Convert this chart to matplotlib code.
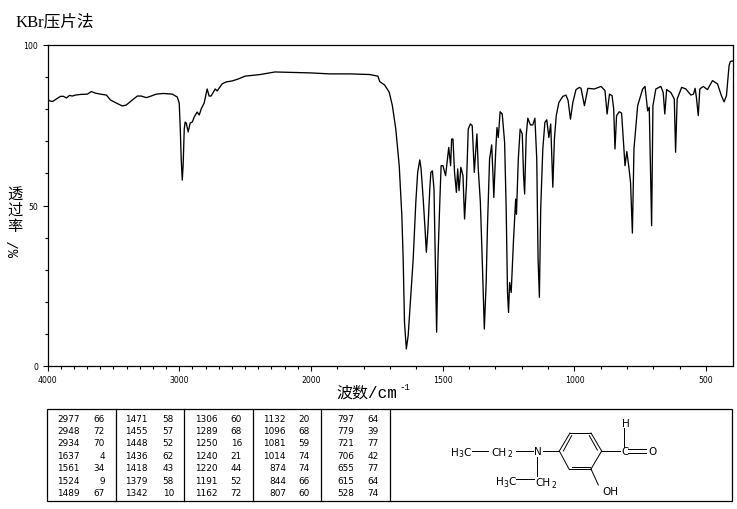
import numpy as np
import matplotlib
matplotlib.use('Agg')
import matplotlib.pyplot as plt
from matplotlib.patches import Rectangle

# spectrum
wavenumber = [4000, 3985, 3962, 3932, 3902, 3879, 3856, 3833, 3811, 3788, 3750, 3697, 3667, 3636, 3598, 3553,
              3523, 3477, 3432, 3402, 3364, 3318, 3288, 3250, 3220, 3174, 3121, 3053, 3015, 3000, 2992, 2985,
              2977, 2970, 2962, 2955, 2947, 2932, 2917, 2901, 2886, 2864, 2848, 2833, 2811, 2788, 2773, 2758,
              2727, 2712, 2674, 2644, 2598, 2553, 2500, 2386, 2273, 2083, 2000, 1928, 1852, 1777, 1746,
              1739, 1720, 1703, 1691, 1678, 1665, 1655, 1650, 1645, 1638, 1631, 1622, 1612, 1602, 1595, 1587,
              1582, 1574, 1567, 1562, 1556, 1549, 1545, 1539, 1533, 1526, 1523, 1518, 1511, 1506, 1499, 1489,
              1482, 1477, 1470, 1466, 1461, 1455, 1448, 1443, 1438, 1431, 1423, 1417, 1410, 1403, 1395, 1388,
              1380, 1375, 1370, 1365, 1357, 1350, 1342, 1335, 1330, 1322, 1314, 1309, 1306, 1299, 1294, 1289,
              1282, 1274, 1265, 1259, 1254, 1250, 1246, 1240, 1231, 1223, 1220, 1213, 1206, 1198, 1193, 1189,
              1183, 1177, 1167, 1158, 1150, 1143, 1138, 1133, 1128, 1120, 1112, 1105, 1097, 1090, 1082, 1076,
              1069, 1059, 1044, 1032, 1024, 1015, 1006, 994, 981,
              975, 962, 949, 924, 899, 884, 876, 867, 857, 851, 846, 840, 830, 821, 808, 801, 794, 787, 780,
              774, 760, 741, 732, 722, 716, 710, 707, 702, 691, 672, 663, 657, 650, 634, 621, 616, 610, 593,
              577, 558, 548, 542, 537, 530, 524, 511, 495, 476, 457, 442, 432, 423, 413, 408, 400]
transmittance = [83.2, 82.6, 82.4, 83.2, 84.0, 84.0, 83.5, 84.3, 84.1, 84.4, 84.6, 84.7, 85.5, 85.0, 84.7, 84.4,
                 82.9, 81.9, 81.0, 81.3, 82.6, 84.1, 84.1, 83.6, 84.0, 84.7, 84.9, 84.7, 83.8, 81.9, 73.8, 64.5,
                 57.9, 62.9, 73.8, 76.0, 75.7, 72.9, 75.7, 76.0, 77.6, 79.1, 78.2, 80.1, 81.9, 86.3, 84.1, 84.1,
                 86.3, 85.7, 87.9, 88.5, 88.8, 89.4, 90.3, 90.8, 91.6, 91.4, 91.3, 91.0, 91.0, 90.8, 90.3,
                 88.6, 87.5, 85.3, 81.1, 73.8, 62.4, 46.8, 33.3, 13.6, 5.3, 9.5, 20.9, 33.3, 51.0, 60.3, 64.2,
                 61.4, 52.0, 42.7, 35.4, 42.7, 55.1, 60.3, 60.8, 55.1, 25.0, 10.5, 33.3, 51.0, 62.4, 62.4, 59.3,
                 64.5, 68.1, 62.4, 70.7, 70.7, 60.3, 54.1, 61.4, 54.6, 61.9, 59.3, 45.8, 56.2, 73.8, 75.4, 74.9,
                 60.3, 66.6, 72.3, 61.4, 51.0, 33.3, 11.5, 26.0, 43.7, 64.5, 68.9, 59.3, 52.5, 66.6, 74.3, 71.2,
                 79.2, 78.5, 69.7, 48.9, 22.9, 16.7, 26.0, 22.9, 39.6, 52.0, 47.3, 64.5, 73.8, 72.3, 59.3, 53.6,
                 71.8, 77.2, 75.1, 75.1, 77.2, 64.5, 33.3, 21.4, 48.9, 67.6, 75.9, 76.7, 71.2, 75.4, 55.7, 70.7,
                 78.0, 82.1, 84.0, 84.4, 82.7, 76.9, 82.1, 86.1, 86.8,
                 86.5, 81.1, 86.5, 86.3, 87.1, 85.8, 78.5, 84.7, 84.2, 80.1, 67.6, 78.0, 79.2, 78.8, 62.4, 66.8, 62.4, 57.2, 41.4,
                 67.6, 81.1, 86.3, 87.1, 79.5, 80.6, 55.7, 43.7, 81.1, 86.3, 87.1, 85.2, 78.5, 86.1, 85.2, 83.2, 66.6, 83.2, 86.8,
                 86.3, 84.4, 84.7, 86.5, 83.7, 78.0, 86.3, 87.1, 86.1, 88.9, 87.9, 84.2, 82.3, 84.2, 93.6, 94.9, 95.0]

# peak table, five blocks of seven rows
peak_wn = [['2977', '2948', '2934', '1637', '1561', '1524', '1489'],
           ['1471', '1455', '1448', '1436', '1418', '1379', '1342'],
           ['1306', '1289', '1250', '1240', '1220', '1191', '1162'],
           ['1132', '1096', '1081', '1014', '874', '844', '807'],
           ['797', '779', '721', '706', '655', '615', '528']]
peak_t = [['66', '72', '70', '4', '34', '9', '67'],
          ['58', '57', '52', '62', '43', '58', '10'],
          ['60', '68', '16', '21', '44', '52', '72'],
          ['20', '68', '59', '74', '74', '66', '60'],
          ['64', '39', '77', '42', '77', '64', '74']]

x_major = [4000, 3000, 2000, 1500, 1000, 500]
y_major = [0, 50, 100]

W, H = 737, 510
SERIF = ['Liberation Serif', 'Noto Sans CJK SC']
MONO = ['Liberation Mono', 'Noto Sans CJK SC']


# the axis is stretched by two below 2000 cm-1
def forward(v):
    v = np.asarray(v, dtype=float)
    return np.where(v >= 2000, v - 2000, (v - 2000) * 2)


def inverse(v):
    v = np.asarray(v, dtype=float)
    return np.where(v >= 0, v + 2000, v / 2 + 2000)


fig = plt.figure(figsize=(W / 100, H / 100), dpi=100)
ax = fig.add_axes([47.5 / W, 1 - 367 / H, 685 / W, 321 / H])
ax.set_xscale('function', functions=(forward, inverse))
ax.plot(wavenumber, transmittance, color='black', lw=0.95)
ax.set_xlim(4000, 400)
ax.set_ylim(0, 100)

x_minor = list(range(4000, 2000, -100)) + list(range(2000, 400, -100))
ax.set_xticks(x_major)
ax.set_xticks(x_minor, minor=True)
ax.set_yticks(y_major)
ax.set_yticks(range(0, 101, 10), minor=True)
ax.tick_params(axis='both', which='major', length=3.6, width=0.8, labelsize=5.6, pad=3)
ax.tick_params(axis='both', which='minor', length=2, width=0.8)
for s in ax.spines.values():
    s.set_linewidth(0.9)

# everything outside the plot is placed in pixel coordinates
over = fig.add_axes([0, 0, 1, 1])
over.set_xlim(0, W)
over.set_ylim(H, 0)
over.axis('off')
over.patch.set_alpha(0)

over.text(16, 22, 'KBr压片法', fontsize=12, family=SERIF, ha='left', va='center')
for lab, yy in zip('透过率', [195, 211, 227]):
    over.text(15, yy, lab, fontsize=11, family=SERIF, ha='center', va='center')
over.text(15, 249, '%/', fontsize=10, family=MONO, rotation=90, ha='center', va='center')
over.text(336, 393, '波数/cm', fontsize=11.5, family=MONO, ha='left', va='center')
over.text(400, 388, '-1', fontsize=6.5, family=MONO, ha='left', va='center')

# table frame
over.add_patch(Rectangle((47.5, 410), 684.5, 91.5, fill=False, ec='black', lw=0.9))
for xv in [116, 184.5, 253, 321.5, 390.5]:
    over.plot([xv, xv], [410, 501.5], color='black', lw=0.9)

wn_right = [80, 148, 217.5, 286, 354]
t_right = [105, 174, 242, 310, 379]
row_y = [420, 431.7, 443.7, 456.7, 469, 481.7, 494]
for c in range(5):
    for r in range(7):
        over.text(wn_right[c], row_y[r], peak_wn[c][r], fontsize=6.4, family='DejaVu Sans',
                  ha='right', va='center')
        over.text(t_right[c], row_y[r], peak_t[c][r], fontsize=6.4, family='DejaVu Sans',
                  ha='right', va='center')

# structure drawing, positions taken from a 3x crop
bonds = [((245, 155), (295, 155)), ((378, 155), (428, 155)), ((460, 156), (508, 156)),
         ((442, 175), (442, 230)), ((378, 240), (432, 240)),
         ((508, 156), (540, 102)), ((540, 102), (603, 102)), ((603, 102), (635, 156)),
         ((635, 156), (603, 210)), ((603, 210), (537, 210)), ((537, 210), (508, 156)),
         ((520, 156), (545, 110)), ((598, 110), (622, 153)), ((545, 203), (600, 203)),
         ((635, 156), (690, 156)), ((715, 150), (768, 150)), ((715, 161), (768, 161)),
         ((703, 88), (703, 145)), ((603, 210), (625, 258))]
for a, b in bonds:
    over.plot([390 + a[0] / 3, 390 + b[0] / 3], [400 + a[1] / 3, 400 + b[1] / 3], color='black', lw=0.7)

atoms = [(183, 158, 'H'), (205, 164, '3'), (220, 158, 'C'), (303, 158, 'CH'), (352, 164, '2'),
         (433, 157, 'N'), (318, 247, 'H'), (340, 253, '3'), (354, 247, 'C'), (435, 250, 'CH'),
         (484, 256, '2'), (693, 157, 'C'), (775, 157, 'O'), (695, 72, 'H'), (638, 277, 'OH')]
for zx, zy, lab in atoms:
    small = lab in ('2', '3')
    over.text(390 + zx / 3, 400 + zy / 3, lab, fontsize=5.5 if small else 7.5, family='DejaVu Sans',
              ha='left', va='center')

fig.savefig('out.png', dpi=100)
